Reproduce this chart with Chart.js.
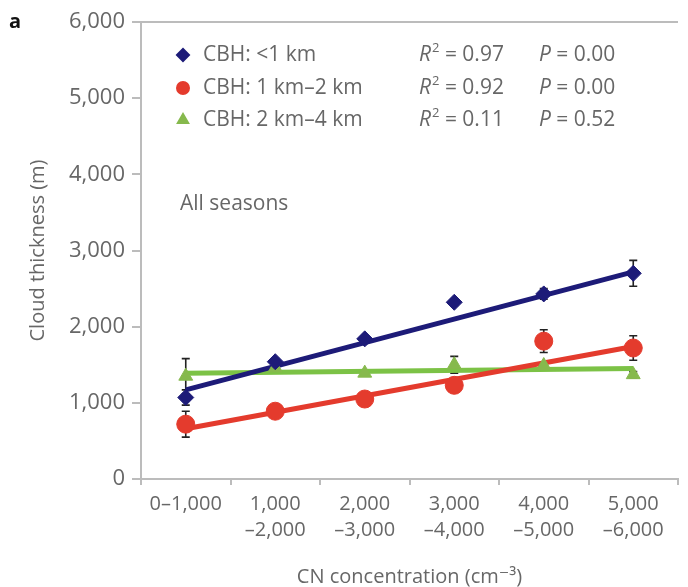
<!DOCTYPE html>
<html>
<head>
<meta charset="utf-8">
<script src="https://cdn.jsdelivr.net/npm/chart.js@4"></script>
<style>
  html, body { margin: 0; padding: 0; background: #fff; }
  #wrap { width: 688px; height: 587px; position: relative; }
</style>
</head>
<body>
<div id="wrap"><canvas id="chart"></canvas></div>
<script>
// --- data ---
const categories = [
    ["0\u20131,000"],
    ["1,000", "\u20132,000"],
    ["2,000", "\u20133,000"],
    ["3,000", "\u20134,000"],
    ["4,000", "\u20135,000"],
    ["5,000", "\u20136,000"]
];
const yTicks = [0, 1000, 2000, 3000, 4000, 5000, 6000];

const seriesNames = ["CBH: <1 km", "CBH: 1 km\u20132 km", "CBH: 2 km\u20134 km"];
const rSquared = ["0.97", "0.92", "0.11"];
const pValues = ["0.00", "0.00", "0.52"];

const lowCloud = [1070, 1540, 1840, 2320, 2430, 2700];
const midCloud = [720, 890, 1050, 1230, 1810, 1720];
const highCloud = [1350, 1460, 1390, 1500, 1490, 1370];

const lowErr = [100, 40, 40, 40, 70, 170];
const midErr = [170, 50, 50, 80, 150, 160];
const highErr = [230, 40, 40, 110, 40, 40];

// regression lines, values at first and last category
const lowFit = [1170, null, null, null, null, 2720];
const midFit = [660, null, null, null, null, 1740];
const highFit = [1390, null, null, null, null, 1450];

const BLUE = "#1d1b78";
const RED = "#e43b2d";
const GREEN = "#7cc246";
const GREEN_MARK = "#86b94d";
const TEXT = "#676767";
const AXIS = "#bcbcbc";
const FONT = "'Open Sans', 'DejaVu Sans', sans-serif";

const errors = [lowErr, midErr, highErr];

// error bars, drawn under the markers
const errorBars = {
    id: "errorBars",
    beforeDatasetsDraw(chart) {
        const { ctx, scales: { y } } = chart;
        ctx.save();
        ctx.strokeStyle = "#222";
        ctx.lineWidth = 1.6;
        errors.forEach((errs, d) => {
            const meta = chart.getDatasetMeta(d);
            const vals = chart.data.datasets[d].data;
            meta.data.forEach((pt, i) => {
                const top = y.getPixelForValue(vals[i] + errs[i]);
                const bot = y.getPixelForValue(vals[i] - errs[i]);
                ctx.beginPath();
                ctx.moveTo(pt.x, top); ctx.lineTo(pt.x, bot);
                ctx.moveTo(pt.x - 4, top); ctx.lineTo(pt.x + 4, top);
                ctx.moveTo(pt.x - 4, bot); ctx.lineTo(pt.x + 4, bot);
                ctx.stroke();
            });
        });
        ctx.restore();
    }
};

// top frame line, legend table, annotations
const decorations = {
    id: "decorations",
    afterDraw(chart) {
        const { ctx, chartArea: a } = chart;
        ctx.save();
        ctx.strokeStyle = AXIS;
        ctx.lineWidth = 2;
        ctx.beginPath();
        ctx.moveTo(a.left, a.top);
        ctx.lineTo(a.right, a.top);
        ctx.stroke();

        ctx.textBaseline = "middle";
        ctx.textAlign = "left";
        const rows = [a.top + 33, a.top + 66, a.top + 98];
        rows.forEach((ry, k) => {
            const ds = chart.data.datasets[k];
            ctx.fillStyle = ds.backgroundColor;
            ctx.strokeStyle = ds.backgroundColor;
            Chart.helpers.drawPoint(ctx, { pointStyle: ds.pointStyle, radius: 6, rotation: 0, borderWidth: 1 }, a.left + 42, ry);

            ctx.fillStyle = TEXT;
            ctx.font = "21px " + FONT;
            ctx.fillText(seriesNames[k], a.left + 62, ry);

            let x = a.left + 278;
            ctx.font = "italic 21px " + FONT;
            ctx.fillText("R", x, ry);
            x += ctx.measureText("R").width;
            ctx.font = "13px " + FONT;
            ctx.fillText("2", x + 1, ry - 7);
            x += ctx.measureText("2").width + 1;
            ctx.font = "21px " + FONT;
            ctx.fillText(" = " + rSquared[k], x, ry);

            x = a.left + 398;
            ctx.font = "italic 21px " + FONT;
            ctx.fillText("P", x, ry);
            x += ctx.measureText("P").width;
            ctx.font = "21px " + FONT;
            ctx.fillText(" = " + pValues[k], x, ry);
        });

        ctx.font = "21px " + FONT;
        ctx.fillText("All seasons", a.left + 39, a.top + 182);

        ctx.fillStyle = "#111";
        ctx.font = "bold 20px " + FONT;
        ctx.fillText("a", 9, a.top);
        ctx.restore();
    }
};

const pointSet = (data, color, style, radius) => ({
    data: data,
    backgroundColor: color,
    borderColor: color,
    pointStyle: style,
    pointRadius: radius,
    pointBorderWidth: 1,
    showLine: false,
    order: 0
});

const fitSet = (data, color) => ({
    data: data,
    borderColor: color,
    borderWidth: 5,
    pointRadius: 0,
    spanGaps: true,
    order: 1
});

new Chart(document.getElementById("chart"), {
    type: "line",
    data: {
        labels: categories,
        datasets: [
            pointSet(lowCloud, BLUE, "rectRot", 8),
            pointSet(midCloud, RED, "circle", 9),
            pointSet(highCloud, GREEN_MARK, "triangle", 8),
            fitSet(lowFit, BLUE),
            fitSet(midFit, RED),
            fitSet(highFit, GREEN)
        ]
    },
    options: {
        responsive: true,
        maintainAspectRatio: false,
        animation: false,
        layout: { padding: { top: 22, right: 0, bottom: 0, left: 0 } },
        plugins: { legend: { display: false }, tooltip: { enabled: false } },
        scales: {
            x: {
                offset: true,
                grid: { offset: true, drawOnChartArea: false, tickLength: 6, color: AXIS, lineWidth: 2 },
                border: { color: AXIS, width: 2 },
                ticks: { color: TEXT, font: { family: FONT, size: 20, lineHeight: 1.3 }, padding: 6, maxRotation: 0, autoSkip: false },
                title: { display: true, text: "CN concentration (cm\u207B\u00B3)", color: TEXT, font: { family: FONT, size: 20 }, padding: { top: 0, bottom: -2 } },
                afterFit: s => { s.height = 108; }
            },
            y: {
                min: 0,
                max: 6000,
                afterBuildTicks: s => { s.ticks = yTicks.map(v => ({ value: v })); },
                grid: { drawOnChartArea: false, tickLength: 9, color: AXIS, lineWidth: 2 },
                border: { color: AXIS, width: 2 },
                ticks: { color: TEXT, font: { family: FONT, size: 22 }, padding: 7, callback: v => v.toLocaleString("en-US") },
                title: { display: true, text: "Cloud thickness (m)", color: TEXT, font: { family: FONT, size: 20 }, padding: { top: 26, bottom: 0 } },
                afterFit: s => { s.width = 141; }
            }
        }
    },
    plugins: [errorBars, decorations]
});
</script>
</body>
</html>
